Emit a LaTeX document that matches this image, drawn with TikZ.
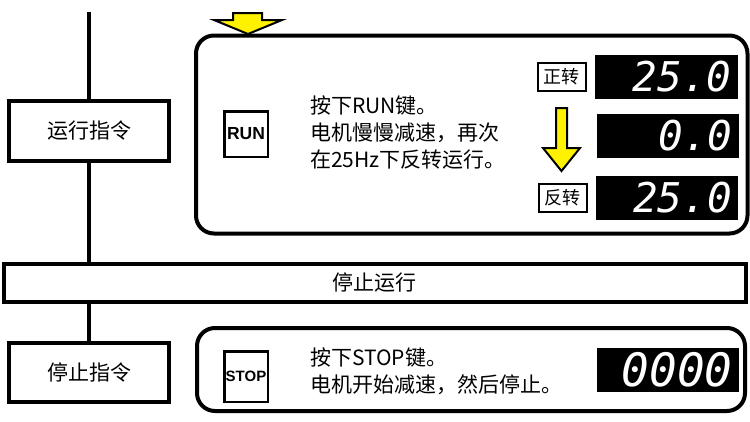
\documentclass[tikz,border=0pt]{standalone}
\usepackage{fontspec}
\setmainfont{Noto Sans CJK SC}
\newfontfamily\keyfont{Liberation Sans}
\newfontfamily\segfont{DejaVu Sans Mono Oblique}
\usetikzlibrary{positioning}

\begin{document}
\begin{tikzpicture}[
    x=1pt, y=-1pt, % pixel-like units, y downwards
    trunk/.style={line width=4.5pt}, % the vertical flow line
    cmdbox/.style={draw, line width=4pt, fill=white, minimum width=160pt,
        minimum height=60pt, font=\fontsize{21}{25}\selectfont},
    panel/.style={draw, line width=4pt, rounded corners=18pt},
    keybox/.style={draw, line width=2.5pt, fill=white, minimum width=43.5pt,
        inner sep=0pt, font=\keyfont\bfseries},
    dirbox/.style={draw, line width=2pt, minimum width=48pt, minimum height=28pt,
        inner sep=0pt, font=\fontsize{18}{18}\selectfont},
    display/.style={fill=black, text=white, text width=130pt, align=right,
        inner xsep=6pt, inner ysep=0pt, minimum height=44pt,
        font=\segfont\fontsize{41}{41}\selectfont},
    note/.style={anchor=west, align=left, inner sep=0pt,
        font=\fontsize{21}{27}\selectfont},
    blockarrow/.style={draw, fill=yellow, line width=2pt, line join=miter}
]
    \useasboundingbox (0,0) rectangle (750,421);

    % Panels
    \node[panel, minimum width=551.5pt, minimum height=198pt] (runpanel) at (471.75,134.5) {};
    \node[panel, minimum width=548pt, minimum height=83pt] (stoppanel) at (471,369.5) {};

    % Bar across the page
    \node[draw, line width=4pt, minimum width=741.5pt, minimum height=38pt,
        font=\fontsize{21}{25}\selectfont] (bar) at (374.75,283) {停止运行};

    % Command boxes and trunk line
    \coordinate (top) at (89,12);
    \draw[trunk] (top) -- (89,101);
    \node[cmdbox] (runcmd) at (89,131) {运行指令};
    \draw[trunk] (runcmd.south) -- (runcmd.south |- bar.north);
    \node[cmdbox, minimum height=59pt] (stopcmd) at (89,372.5) {停止指令};
    \draw[trunk] (runcmd.south |- bar.south) -- (stopcmd.north);

    % Keys
    \node[keybox, minimum height=45.5pt, font=\keyfont\bfseries\fontsize{17.5}{18}\selectfont]
        (runkey) at (246,134) {RUN};
    \node[keybox, minimum height=50.5pt, font=\keyfont\bfseries\fontsize{15}{16}\selectfont]
        (stopkey) at (246,376.5) {STOP};

    % Notes
    \node[note] (runnote) at (310,133) {按下RUN键。\\电机慢慢减速，再次\\在25Hz下反转运行。};
    \node[note] (stopnote) at (310,371) {按下STOP键。\\电机开始减速，然后停止。};

    % Displays
    \node[display, minimum width=143pt] (fwdval) at (666.5,76.5) {25.0};
    \node[display] (zeroval) at (667.5,136) {0.0};
    \node[display] (revval) at (667,198) {25.0};
    \node[display, font=\segfont\fontsize{46}{46}\selectfont] (stopval) at (667.5,370) {0000};
    \node[dirbox, left=8pt of fwdval] (fwd) {正转};
    \node[dirbox, left=8pt of revval] (rev) {反转};

    % Yellow arrows
    \draw[blockarrow] (233,13) -- (262,13) -- (262,20) -- (282,20) -- (248,34)
        -- (214,20) -- (233,20) -- cycle;
    \draw[blockarrow] (556,108) -- (567,108) -- (567,148) -- (580,148) -- (561.5,171)
        -- (543,148) -- (556,148) -- cycle;

\end{tikzpicture}
\end{document}
